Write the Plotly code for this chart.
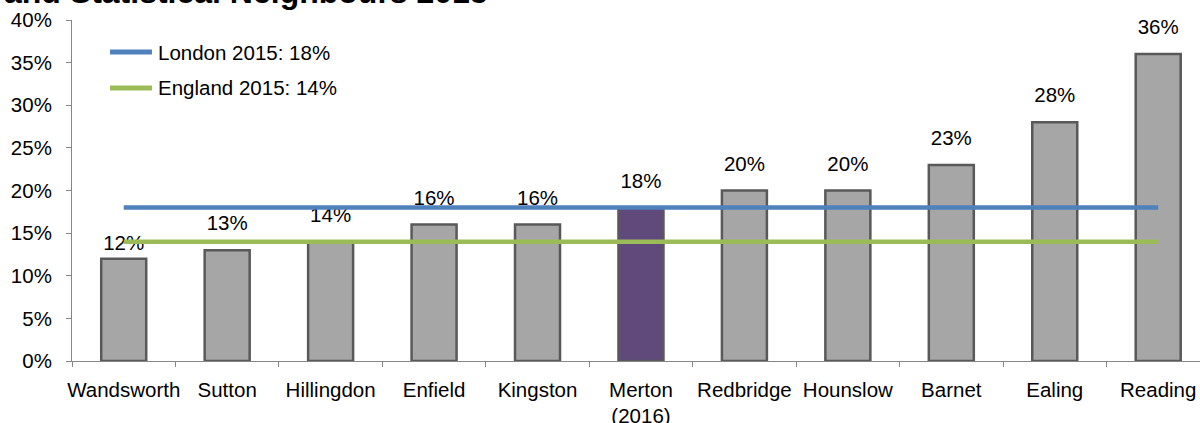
import plotly.graph_objects as go

# Share of residents, by borough / statistical neighbour
areas = ["Wandsworth", "Sutton", "Hillingdon", "Enfield", "Kingston",
         "Merton<br>(2016)", "Redbridge", "Hounslow", "Barnet", "Ealing", "Reading"]
shares = [0.12, 0.13, 0.14, 0.16, 0.16, 0.18, 0.20, 0.20, 0.23, 0.28, 0.36]
# spacing (px) between each bar top and its value label
label_gap = [4, 22, 22, 22, 22, 22, 22, 22, 22, 22, 22]

# Benchmarks
london_2015 = 0.18
england_2015 = 0.14
london_label = "London 2015: 18%"
england_label = "England 2015: 14%"
title_text = "and Statistical Neighbours 2015"

FONT = "Liberation Sans, Arial, sans-serif"
FS = 20.5
GREY = "#A6A6A6"
MERTON = "#604A7B"
BLUE = "#4F81BD"
GREEN = "#9BBB59"
AXIS = "#868686"

bar_colors = [MERTON if a.startswith("Merton") else GREY for a in areas]

fig = go.Figure()
fig.add_trace(go.Bar(
    x=areas, y=shares,
    marker=dict(color=bar_colors, line=dict(color="#595959", width=2.5)),
    width=0.435,
    showlegend=False,
))

# Value labels: an invisible marker sized to push each label above its bar
fig.add_trace(go.Scatter(
    x=areas, y=shares, mode="markers+text",
    marker=dict(size=label_gap, opacity=0),
    text=[f"{round(v * 100)}%" for v in shares],
    textposition="top center",
    textfont=dict(family=FONT, size=FS, color="black"),
    showlegend=False, hoverinfo="skip", cliponaxis=False,
))

# Benchmark lines drawn over the labels
fig.add_trace(go.Scatter(
    x=areas, y=[london_2015] * len(areas), mode="lines",
    line=dict(color=BLUE, width=4.5), showlegend=False,
))
fig.add_trace(go.Scatter(
    x=areas, y=[england_2015] * len(areas), mode="lines",
    line=dict(color=GREEN, width=4.5), showlegend=False,
))

# Key drawn in the top-left corner of the plot
key = [(london_label, BLUE, 0.906), (england_label, GREEN, 0.8006)]
for label, color, ky in key:
    fig.add_shape(type="line", xref="paper", yref="paper",
                  x0=0.0337, x1=0.0709, y0=ky, y1=ky,
                  line=dict(color=color, width=5))
    fig.add_annotation(xref="paper", yref="paper", x=0.0745, y=ky,
                       xanchor="left", yanchor="middle", showarrow=False,
                       text=label, font=dict(family=FONT, size=FS, color="black"))

fig.add_annotation(xref="paper", yref="paper", x=-0.062, y=1.0235,
                   xanchor="left", yanchor="bottom", showarrow=False,
                   text=f"<b>{title_text}</b>",
                   font=dict(family=FONT, size=32, color="black"))

fig.update_layout(
    width=1200, height=423,
    margin=dict(l=72, r=0, t=20, b=62),
    paper_bgcolor="white", plot_bgcolor="white",
    font=dict(family=FONT, size=FS, color="black"),
    bargap=0.565,
)
fig.update_xaxes(
    range=[-0.5, 10.404], automargin=False,
    showline=True, linecolor=AXIS, linewidth=1,
    ticks="outside", tickson="boundaries", ticklen=5, tickcolor=AXIS,
    showgrid=False, tickfont=dict(family=FONT, size=FS, color="black"),
    tickangle=0, ticklabelstandoff=10,
)
fig.update_yaxes(
    range=[0, 0.40], dtick=0.05, tickformat=".0%", automargin=False,
    showline=True, linecolor=AXIS, linewidth=1,
    ticks="outside", ticklen=5, tickcolor=AXIS,
    showgrid=False, zeroline=False,
    tickfont=dict(family=FONT, size=FS, color="black"),
    ticklabelstandoff=10,
)

fig.write_html("out.html")
